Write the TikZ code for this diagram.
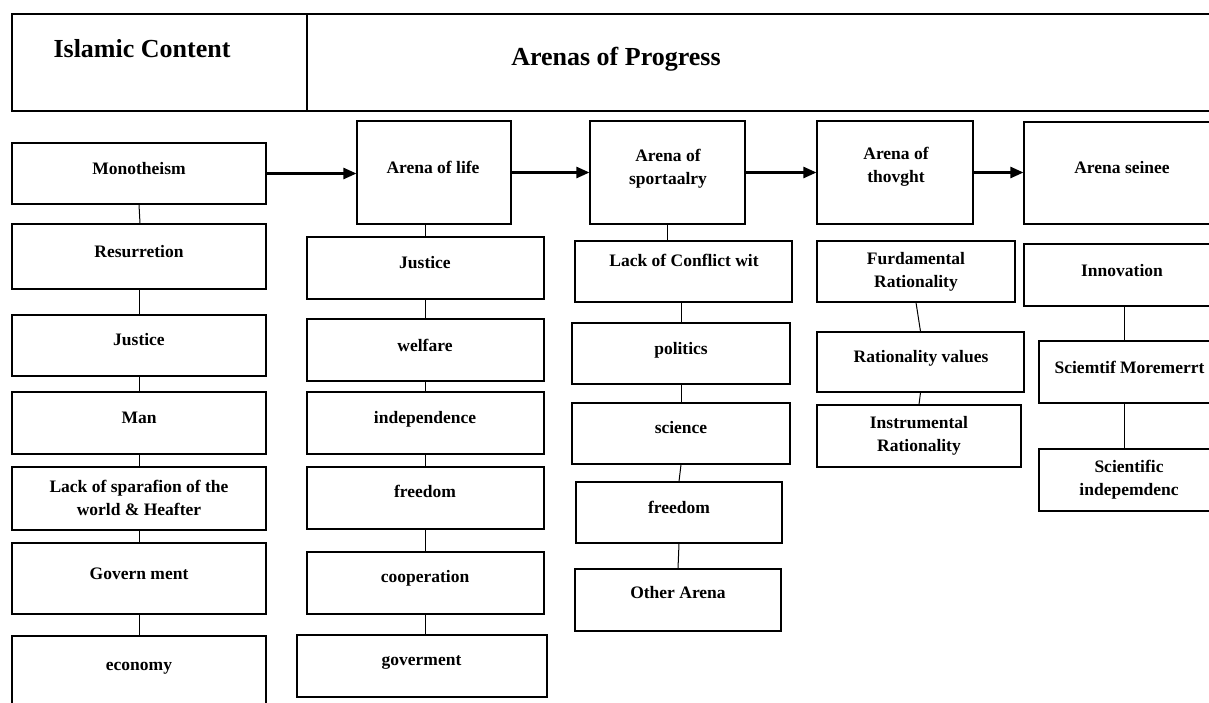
\documentclass[tikz,border=0pt]{standalone}
\usepackage{fontspec}
\setmainfont{Liberation Serif}
\usetikzlibrary{fit,arrows.meta}
\tikzset{
  boxst/.style={draw=black,line width=1.1pt,inner sep=0pt,rectangle},
  txt/.style={font=\bfseries\fontsize{17.5}{23}\selectfont,inner sep=0pt},
  head/.style={font=\bfseries\fontsize{26}{30}\selectfont,inner sep=0pt},
  conn/.style={draw=black,line width=1pt},
  arr/.style={draw=black,line width=2.4pt,-{Triangle[length=13pt,width=11pt]}}
}
\newcommand\bxx[5]{\node[boxst,fit={(#2,#3) (#4,#5)}] (#1) {};}
\newcommand\tb[4]{\node[txt,anchor=base] (#1) at (#2,#3) {#4};}
\newcommand\tcc[4]{\node[txt,anchor=center,align=center] (#1) at (#2,#3) {#4};}
\begin{document}
\begin{tikzpicture}[x=1pt,y=-1pt]
\useasboundingbox (0,0) rectangle (1209,702);
\clip (0,0) rectangle (1209,702);
% header
\bxx{hl}{12}{14}{307}{111}
\bxx{hr}{307}{14}{1222}{111}
\node[head,anchor=base] (hlt) at (142,57) {Islamic Content};
\node[head,anchor=base] (hrt) at (616,65) {Arenas of Progress};
% column 1
\bxx{mono}{12}{143}{266}{204}   \tb{tmono}{139}{174}{Monotheism}
\bxx{res}{12}{224}{266}{289}    \tb{tres}{139}{257}{Resurretion}
\bxx{jus1}{12}{315}{266}{376}   \tb{tjus1}{139}{345}{Justice}
\bxx{man}{12}{392}{266}{454}    \tb{tman}{139}{423}{Man}
\bxx{lack1}{12}{467}{266}{530}  \tcc{tlack1}{139}{497.5}{Lack of sparafion of the\\world \& Heafter}
\bxx{gov1}{12}{543}{266}{614}   \tb{tgov1}{139}{579}{Govern ment}
\bxx{eco}{12}{636}{266}{714}    \tb{teco}{139}{670}{economy}
% column 2
\bxx{life}{357}{121}{511}{224}  \tb{tlife}{433}{173}{Arena of life}
\bxx{jus2}{307}{237}{544}{299}  \tb{tjus2}{425}{268}{Justice}
\bxx{wel}{307}{319}{544}{381}   \tb{twel}{425}{351}{welfare}
\bxx{ind}{307}{392}{544}{454}   \tb{tind}{425}{423}{independence}
\bxx{fr2}{307}{467}{544}{529}   \tb{tfr2}{425}{497}{freedom}
\bxx{coop}{307}{552}{544}{614}  \tb{tcoop}{425}{582}{cooperation}
\bxx{gov2}{297}{635}{547}{697}  \tb{tgov2}{421.5}{665}{goverment}
% column 3
\bxx{sport}{590}{121}{745}{224} \tcc{tsport}{668}{168.5}{Arena of\\sportaalry}
\bxx{lack3}{575}{241}{792}{302} \tb{tlack3}{684}{266}{Lack of Conflict wit}
\bxx{pol}{572}{323}{790}{384}   \tb{tpol}{681}{354}{politics}
\bxx{sci}{572}{403}{790}{464}   \tb{tsci}{681}{433}{science}
\bxx{fr3}{576}{482}{782}{543}   \tb{tfr3}{679}{513}{freedom}
\bxx{oth}{575}{569}{781}{631}   \tb{toth}{678}{598}{Other Arena}
% column 4
\bxx{thov}{817}{121}{973}{224}  \tcc{tthov}{896}{167}{Arena of\\thovght}
\bxx{furd}{817}{241}{1015}{302} \tcc{tfurd}{916}{272}{Furdamental\\Rationality}
\bxx{rv}{817}{332}{1024}{392}   \tb{trv}{921}{362}{Rationality values}
\bxx{ins}{817}{405}{1021}{467}  \tcc{tins}{919}{436}{Instrumental\\Rationality}
% column 5
\bxx{sein}{1024}{122}{1222}{224} \tb{tsein}{1122}{173}{Arena seinee}
\bxx{inn}{1024}{244}{1222}{306}  \tb{tinn}{1122}{276}{Innovation}
\bxx{sm}{1039}{341}{1222}{403}   \tb{tsm}{1129.5}{373}{Sciemtif Moremerrt}
\bxx{sid}{1039}{449}{1222}{511}  \tcc{tsid}{1129}{479.5}{Scientific\\indepemdenc}
% arrows
\draw[arr] (mono.east) -- (mono.east -| life.west);
\draw[arr] (life.east) -- (life.east -| sport.west);
\draw[arr] (sport.east) -- (sport.east -| thov.west);
\draw[arr] (thov.east) -- (thov.east -| sein.west);
% column 1 connectors
\draw[conn] (mono.south) -- ([xshift=1pt]res.north);
\draw[conn] (res.south) -- (jus1.north);
\draw[conn] (jus1.south) -- (man.north);
\draw[conn] (man.south) -- (lack1.north);
\draw[conn] (lack1.south) -- (gov1.north);
\draw[conn] (gov1.south) -- (eco.north);
% column 2 connectors
\draw[conn] (jus2.north |- life.south) -- (jus2.north);
\draw[conn] (jus2.south) -- (wel.north);
\draw[conn] (wel.south) -- (ind.north);
\draw[conn] (ind.south) -- (fr2.north);
\draw[conn] (fr2.south) -- (coop.north);
\draw[conn] (coop.south) -- (coop.south |- gov2.north);
% column 3 connectors
\draw[conn] (sport.south) -- (sport.south |- lack3.north);
\draw[conn] (pol.north |- lack3.south) -- (pol.north);
\draw[conn] (pol.south) -- (sci.north);
\draw[conn] (sci.south) -- (fr3.north);
\draw[conn] (fr3.south) -- (oth.north);
% column 4 connectors
\draw[conn] (furd.south) -- (rv.north);
\draw[conn] (rv.south) -- (ins.north);
% column 5 connectors
\draw[conn] ([xshift=1pt]inn.south) -- ([xshift=1pt]inn.south |- sm.north);
\draw[conn] ([xshift=1pt]inn.south |- sm.south) -- ([xshift=1pt]inn.south |- sid.north);
\end{tikzpicture}
\end{document}
